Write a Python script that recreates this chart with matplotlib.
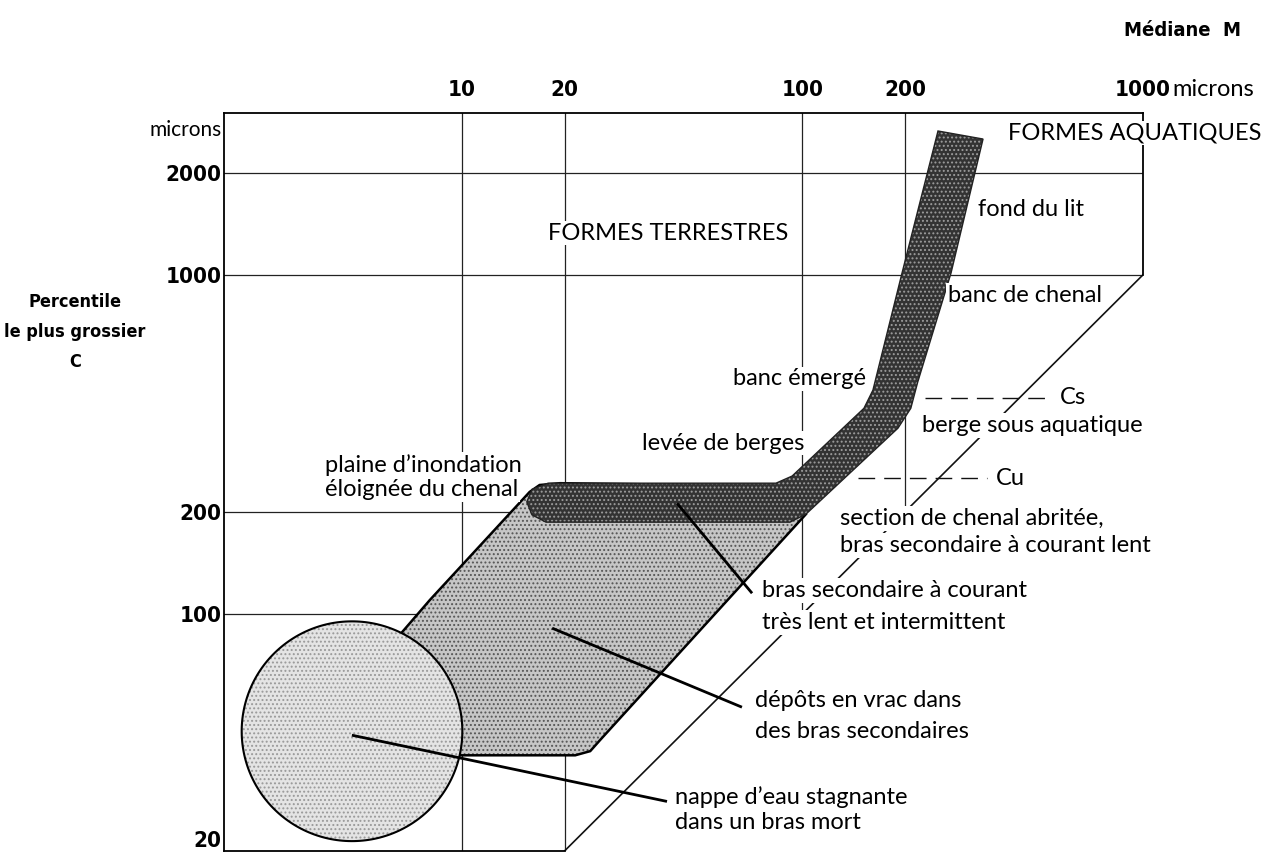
import numpy as np
import matplotlib
matplotlib.use('Agg')
import matplotlib.pyplot as plt
from matplotlib.patches import Polygon

# axes (microns)
m_ticks = [10, 20, 100, 200, 1000]
m_labels = ['10', '20', '100', '200', '1000']
c_ticks = [20, 100, 200, 1000, 2000]
c_labels = ['20', '100', '200', '1000', '2000']

# grid segments: value, from, to
h_grid = [(2000, 2, 1000), (1000, 2, 1000), (200, 2, 50), (100, 2, 30)]
v_grid = [(10, 20, 3000), (20, 20, 3000), (100, 100, 3000), (200, 200, 3000)]
diag_m = [20, 1000]   # line C = M

# limits Cs / Cu (dashed)
cs_c, cs_m = 433, (229, 540)
cu_c, cu_m = 251, (146, 348)

# dark band (formes aquatiques -> levee de berges)
band_m = [250, 196, 161, 151.5, 93.2, 83.6, 17.9, 16.05, 15.5, 16.05, 17.65,
          91.9, 102.4, 190.7, 208, 218, 273, 339]
band_c = [2655, 1012, 457, 404, 255, 243, 243, 233, 214, 196, 186.5,
          186.5, 197, 353, 404, 483, 1012, 2514]

# light field (bras secondaires)
light_m = [19.4, 16.9, 15.8, 8.05, 6.58, 5.37, 6.58, 21.5, 23.8, 25.4, 61.3,
           102.4, 91.9, 50]
light_c = [243, 240, 229, 110, 87, 60, 38.3, 38.3, 39.4, 42.4, 112,
           197, 232, 240]

# circle (bras mort): centre and radius in decades
circ_m, circ_c, circ_r = 4.753, 45.1, 0.324

# leader lines
lead_m = [(42.8, 71.1), (18.4, 66.4), (4.75, 40.0)]
lead_c = [(212, 115.1), (90.8, 53.1), (43.9, 28.0)]

labels = [
    ('FORMES AQUATIQUES', 401, 2619),
    ('fond du lit', 328, 1553),
    ('FORMES TERRESTRES', 17.9, 1328),
    ('banc de chenal', 267, 871),
    ('banc émergé', 62.5, 493),
    ('levée de berges', 33.8, 319),
    ('plaine d\u2019inondation', 3.96, 275),
    ('éloignée du chenal', 3.96, 233),
    ('Cs', 570, 436),
    ('berge sous aquatique', 224, 360),
    ('Cu', 370, 250),
    ('section de chenal abritée,', 129, 191.6),
    ('bras secondaire à courant lent', 129, 159.5),
    ('bras secondaire à courant', 76, 117.5),
    ('très lent et intermittent', 76, 94.5),
    ('dépôts en vrac dans', 72.5, 55.7),
    ('des bras secondaires', 72.5, 45.1),
    ('nappe d\u2019eau stagnante', 42.2, 28.8),
    ('dans un bras mort', 42.2, 24.3),
]

narrow = ['DejaVu Sans']
txtfont = ['Lato', 'DejaVu Sans']

fig = plt.figure(figsize=(12.83, 8.57), dpi=100)
ax = fig.add_axes([224/1283, 6/857, 919/1283, 738/857])
ax.set_xscale('log')
ax.set_yscale('log')
ax.set_xlim(2, 1000)
ax.set_ylim(20, 3000)
ax.minorticks_off()
ax.xaxis.tick_top()
ax.set_xticks(m_ticks, m_labels)
ax.set_yticks(c_ticks, c_labels)
ax.tick_params(axis='both', length=0)
ax.tick_params(axis='x', pad=9)
ax.tick_params(axis='y', pad=2)
for lab in ax.get_xticklabels() + ax.get_yticklabels():
    lab.set_fontfamily(narrow)
    lab.set_fontstretch('condensed')
    lab.set_fontweight('bold')
    lab.set_fontsize(16)
for lab in ax.get_yticklabels():
    if lab.get_text() == '20':
        lab.set_va('bottom')

for s in ax.spines.values():
    s.set_linewidth(1.3)
ax.spines['right'].set_bounds(1000, 3000)
ax.spines['bottom'].set_bounds(2, 20)

# grid
for c, m0, m1 in h_grid:
    ax.plot([m0, m1], [c, c], color='#222', lw=0.9, zorder=1)
for m, c0, c1 in v_grid:
    ax.plot([m, m], [c0, c1], color='#222', lw=0.9, zorder=1)
ax.plot(diag_m, diag_m, color='#111', lw=1.2, zorder=1)
ax.plot(cs_m, [cs_c, cs_c], color='#111', lw=1.0, dashes=(12, 6.5), zorder=1)
ax.plot(cu_m, [cu_c, cu_c], color='#111', lw=1.0, dashes=(12, 6.5), zorder=1)


def screened(xy, face, dots, hatch, edge, lw, z):
    # halftone look: flat fill, dot hatch on top, then outline
    ax.add_patch(Polygon(xy, closed=True, facecolor=face, edgecolor='none', zorder=z))
    ax.add_patch(Polygon(xy, closed=True, fill=False, edgecolor=dots, lw=0,
                         hatch=hatch, zorder=z))
    ax.add_patch(Polygon(xy, closed=True, fill=False, edgecolor=edge, lw=lw, zorder=z))


plt.rcParams['hatch.linewidth'] = 0.9
screened(np.column_stack([light_m, light_c]), '#c6c6c6', '#555555', '....',
         'black', 1.8, 2)
screened(np.column_stack([band_m, band_c]), '#333333', '#9c9c9c', '....',
         '#222', 1.0, 3)
t = np.linspace(0, 2 * np.pi, 240)
cm = circ_m * 10 ** (circ_r * np.cos(t))
cc = circ_c * 10 ** (circ_r * np.sin(t))
screened(np.column_stack([cm, cc]), '#e4e4e4', '#999999', '....',
         'black', 1.5, 4)

for lm, lc in zip(lead_m, lead_c):
    ax.plot(lm, lc, color='black', lw=2.0, zorder=5, solid_capstyle='butt')

for s, m, c in labels:
    ax.text(m, c, s, fontsize=17, family=txtfont, ha='left', va='center',
            zorder=6, clip_on=False,
            bbox=dict(boxstyle='square,pad=0.08', fc='white', ec='none'))

# axis titles
ax.text(1.97, 2670, 'microns', fontsize=15, family=txtfont, ha='right',
        va='center', clip_on=False)
ax.annotate('microns', xy=(1000, 1), xycoords=('data', 'axes fraction'),
            xytext=(21, 9), textcoords='offset points', ha='left', va='bottom',
            fontsize=17, family=txtfont)
fig.text(1183/1283, 1 - 30/857, 'Médiane  M', fontsize=14.5, family=narrow,
         fontstretch='condensed', fontweight='bold', ha='center', va='center')
fig.text(75/1283, 1 - 332/857, 'Percentile\nle plus grossier\nC', fontsize=13,
         family=narrow, fontstretch='condensed', fontweight='bold',
         ha='center', va='center', linespacing=1.85)

fig.savefig('out.png', dpi=100)
